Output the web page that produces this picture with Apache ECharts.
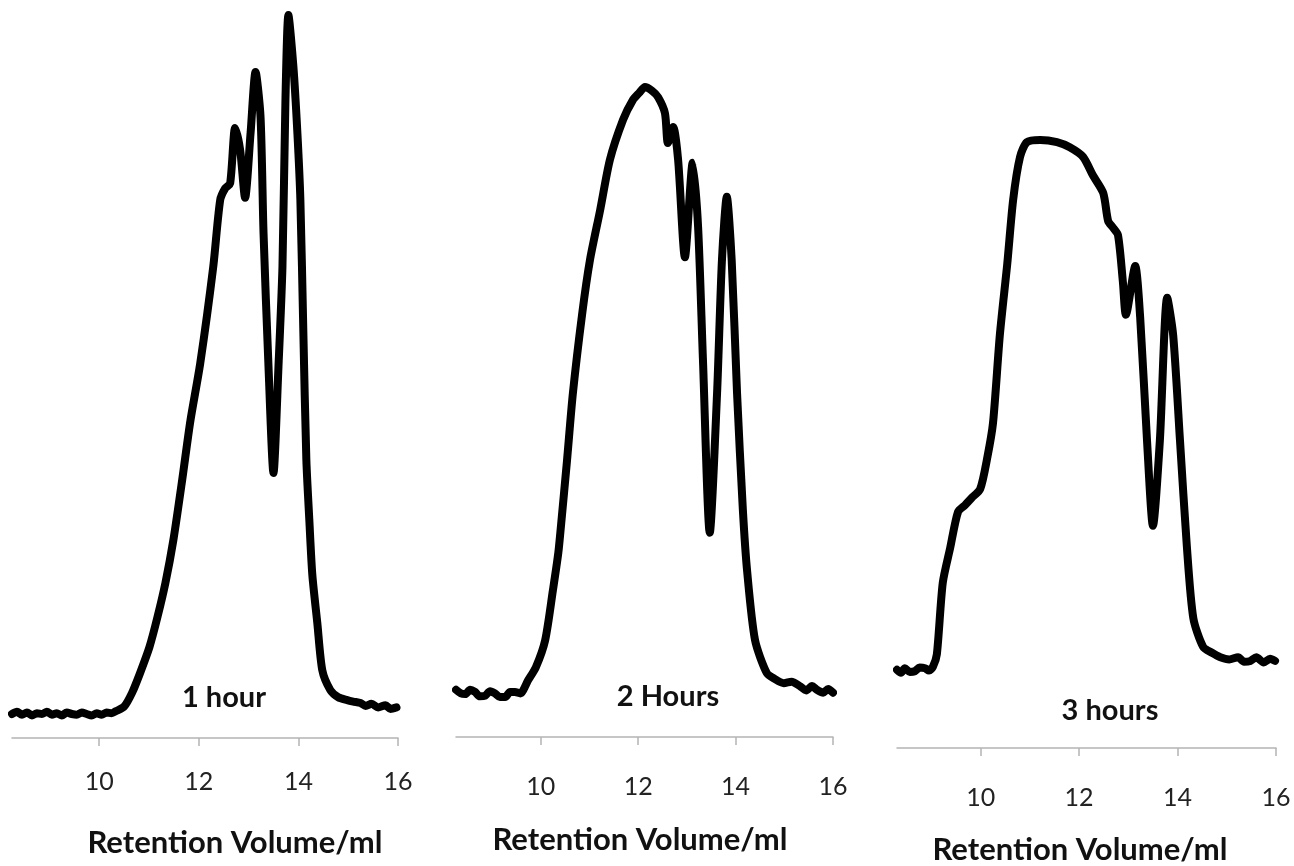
<!DOCTYPE html>
<html>
<head>
<meta charset="utf-8">
<script src="https://cdn.jsdelivr.net/npm/echarts@6/dist/echarts.min.js"></script>
<style>
html,body{margin:0;padding:0;background:#fff;}
#chart{width:1294px;height:866px;}
</style>
</head>
<body>
<div id="chart"></div>
<script>
// Retention volume (ml) and detector signal (relative units) for each reaction time
const vol1 = [8.25,8.35,8.45,8.55,8.65,8.75,8.85,8.95,9.05,9.15,9.25,9.35,9.45,9.55,9.65,9.75,9.85,9.95,10.05,10.15,10.25,10.34,10.50,10.66,10.82,11.01,11.17,11.33,11.49,11.67,11.83,12.03,12.29,12.43,12.53,12.63,12.73,12.83,12.93,13.04,13.14,13.24,13.30,13.40,13.50,13.60,13.68,13.74,13.80,13.90,13.98,14.04,14.10,14.16,14.22,14.28,14.38,14.48,14.64,14.80,14.98,15.10,15.25,15.35,15.47,15.60,15.75,15.85,15.97];
const sig1 = [3.3,3.6,3.2,3.5,3.1,3.4,3.3,3.6,3.2,3.4,3.1,3.5,3.3,3.2,3.5,3.3,3.1,3.4,3.2,3.5,3.4,3.7,4.3,6.2,8.9,12.5,16.6,21.3,27.2,35.6,43.5,51.5,64.7,73.9,75.5,76.2,83.8,80.8,74.2,83.1,91.5,85.3,69.4,51.0,36.4,51.0,64.7,87.6,99.3,92.2,83.1,73.9,55.6,38.2,29.9,22.4,15.8,9.3,6.6,5.6,5.2,5.0,4.8,4.4,4.7,4.2,4.5,4.0,4.2];

const vol2 = [8.26,8.36,8.45,8.55,8.65,8.75,8.86,8.96,9.06,9.16,9.27,9.37,9.47,9.58,9.74,9.90,10.09,10.25,10.36,10.42,10.54,10.66,10.85,11.01,11.22,11.42,11.69,11.89,12.02,12.14,12.28,12.41,12.55,12.61,12.72,12.82,12.96,13.12,13.23,13.33,13.47,13.62,13.72,13.82,13.92,14.03,14.15,14.24,14.40,14.64,14.80,14.99,15.15,15.32,15.45,15.57,15.67,15.80,15.90,16.0];
const sig2 = [6.5,6.0,5.9,6.5,6.2,5.6,5.7,6.3,6.0,5.5,5.5,6.2,6.2,6.0,7.8,9.6,13.3,20.2,25.3,29.4,38.1,47.3,58.2,65.6,72.5,79.4,84.9,87.6,88.6,89.4,88.9,88.0,85.8,81.7,83.9,79.4,66.0,79.0,70.2,51.9,28.1,47.3,65.6,74.3,65.6,47.3,31.2,22.6,13.3,8.8,8.0,7.4,7.6,7.0,6.4,7.0,6.5,6.1,6.6,6.1];

const vol3 = [8.30,8.38,8.46,8.56,8.66,8.76,8.87,8.95,9.03,9.11,9.23,9.38,9.54,9.68,9.82,9.99,10.13,10.25,10.39,10.54,10.66,10.80,10.94,11.21,11.55,11.81,12.08,12.28,12.49,12.59,12.69,12.79,12.89,12.95,13.14,13.24,13.38,13.50,13.64,13.79,13.91,14.05,14.19,14.32,14.52,14.70,14.87,15.05,15.23,15.35,15.48,15.60,15.75,15.88,15.98];
const sig3 = [10.6,10.2,10.8,10.3,10.4,10.9,10.8,10.5,11.0,12.7,22.4,27.1,32.0,32.9,33.9,35.1,39.2,44.0,56.0,65.6,74.3,80.1,82.1,82.4,82.1,81.4,80.1,77.6,75.2,71.4,70.5,69.5,63.1,58.7,65.3,58.4,41.6,30.1,41.6,61.0,56.0,41.6,27.2,17.6,13.7,12.9,12.3,12.0,12.3,11.7,11.8,12.3,11.6,12.1,11.8];

const panelLabels = ['1 hour', '2 Hours', '3 hours'];
const tickValues = [10, 12, 14, 16];
const axisTitle = 'Retention Volume/ml';

const pairs = (xs, ys) => xs.map((x, i) => [x, ys[i]]);

const grids = [
  {left: 12, right: 896, top: 10, bottom: 128},
  {left: 456, right: 461, top: 10, bottom: 129},
  {left: 897, right: 18, top: 10, bottom: 118}
];
const mins = [8.25, 8.26, 8.3];
const labelMargins = [31, 37, 37];
const FONT = 'Lato, "Open Sans", sans-serif';

const xAxes = grids.map((g, i) => ({
  type: 'value', gridIndex: i, min: mins[i], max: 16,
  axisLine: {show: true, lineStyle: {color: '#b4b4b4', width: 1.5}},
  axisTick: {show: true, customValues: tickValues, length: 8, lineStyle: {color: '#b4b4b4', width: 1.5}},
  axisLabel: {show: true, customValues: tickValues, margin: labelMargins[i], fontSize: 25, color: '#222', fontFamily: FONT},
  splitLine: {show: false}
}));
const yAxes = grids.map((g, i) => ({
  type: 'value', gridIndex: i, min: 0, max: 100, show: false
}));

const series = [pairs(vol1, sig1), pairs(vol2, sig2), pairs(vol3, sig3)].map((d, i) => ({
  type: 'line', xAxisIndex: i, yAxisIndex: i, data: d,
  showSymbol: false, smooth: 0.25,
  lineStyle: {color: '#000', width: 8, cap: 'round', join: 'round'}
}));

const labelPos = [[224, 698], [668, 697], [1110, 711]];
const titlePos = [[235, 843], [640, 840], [1080, 850]];
const graphic = [];
labelPos.forEach((p, i) => graphic.push({
  type: 'text', x: p[0], y: p[1],
  style: {text: panelLabels[i], fontSize: 29, fontWeight: 'bold', fill: '#111', fontFamily: FONT, align: 'center', verticalAlign: 'middle'}
}));
titlePos.forEach((p) => graphic.push({
  type: 'text', x: p[0], y: p[1],
  style: {text: axisTitle, fontSize: 31, fontWeight: 'bold', fill: '#111', fontFamily: FONT, align: 'center', verticalAlign: 'middle'}
}));

const chart = echarts.init(document.getElementById('chart'));
chart.setOption({
  animation: false,
  backgroundColor: '#fff',
  grid: grids,
  xAxis: xAxes,
  yAxis: yAxes,
  series: series,
  graphic: graphic
});
</script>
</body>
</html>
